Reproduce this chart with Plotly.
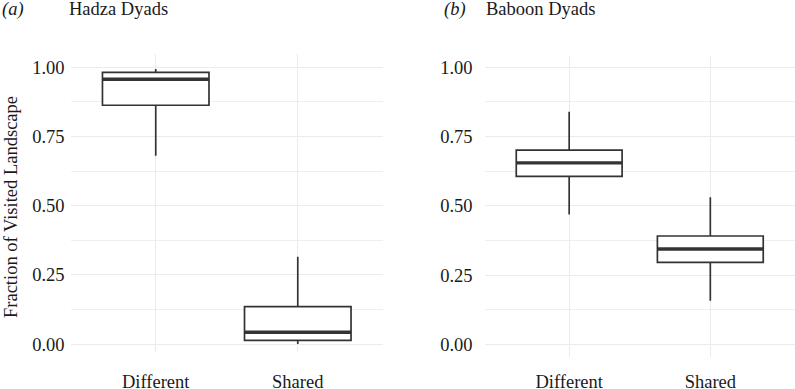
import plotly.graph_objects as go

categories = ["Different", "Shared"]
y_ticks = [0.0, 0.25, 0.5, 0.75, 1.0]
y_tick_labels = ["0.00", "0.25", "0.50", "0.75", "1.00"]

# Hadza dyads box statistics
hadza_lower = [0.681, 0.001]
hadza_q1 = [0.863, 0.014]
hadza_median = [0.957, 0.043]
hadza_q3 = [0.982, 0.136]
hadza_upper = [0.994, 0.316]

# Baboon dyads box statistics
baboon_lower = [0.469, 0.157]
baboon_q1 = [0.606, 0.296]
baboon_median = [0.655, 0.344]
baboon_q3 = [0.701, 0.391]
baboon_upper = [0.840, 0.531]

BOX_W = 0.75
LINE = "#333333"
GRID = "#EBEBEB"
FONT = "Liberation Serif"
FS = 18.5
W, H = 795, 389

xpos = list(range(len(categories)))

fig = go.Figure()


def add_panel(lower, q1, med, q3, upper, xa, ya):
    fig.add_trace(go.Box(
        x=xpos, q1=q1, median=med, q3=q3, lowerfence=lower, upperfence=upper,
        width=BOX_W, whiskerwidth=0, fillcolor="white",
        line=dict(color=LINE, width=1.7), boxpoints=False,
        xaxis=xa, yaxis=ya, showlegend=False, hoverinfo="skip",
    ))
    mx, my = [], []
    for c, m in zip(xpos, med):
        mx += [c - BOX_W / 2, c + BOX_W / 2, None]
        my += [m, m, None]
    fig.add_trace(go.Scatter(
        x=mx, y=my, mode="lines", line=dict(color=LINE, width=3.4),
        xaxis=xa, yaxis=ya, showlegend=False, hoverinfo="skip",
    ))


add_panel(hadza_lower, hadza_q1, hadza_median, hadza_q3, hadza_upper, "x", "y")
add_panel(baboon_lower, baboon_q1, baboon_median, baboon_q3, baboon_upper, "x2", "y2")

xcommon = dict(
    range=[-0.6, len(categories) - 0.4], tickvals=xpos, ticktext=categories,
    showgrid=True, gridcolor=GRID, gridwidth=1.2, zeroline=False, showline=False,
    ticks="", automargin=False, tickfont=dict(family=FONT, size=FS, color="#1a1a1a"),
)
ycommon = dict(
    tickvals=y_ticks, ticktext=y_tick_labels,
    showgrid=True, gridcolor=GRID, gridwidth=1.2, zeroline=False, showline=False,
    ticks="", automargin=False, tickfont=dict(family=FONT, size=FS, color="#1a1a1a"),
    minor=dict(dtick=0.125, tick0=0, showgrid=True, gridcolor="#EFEFEF", gridwidth=0.9, ticks=""),
)

fig.update_layout(
    width=W, height=H,
    margin=dict(l=0, r=0, t=0, b=0),
    plot_bgcolor="white", paper_bgcolor="white",
    xaxis=dict(domain=[70.5 / W, 383 / W], anchor="y", ticklabelstandoff=17, **xcommon),
    xaxis2=dict(domain=[484.5 / W, 1.0], anchor="y2", ticklabelstandoff=11, **xcommon),
    yaxis=dict(domain=[1 - 351.7 / H, 1 - 54 / H], range=[-0.027, 1.048], anchor="x",
               ticklabelstandoff=5, **ycommon),
    yaxis2=dict(domain=[1 - 357.3 / H, 1 - 55.7 / H], range=[-0.047, 1.042], anchor="x2",
                ticklabelstandoff=11, **ycommon),
)

ann_font = dict(family=FONT, size=FS, color="#1a1a1a")
ty = 1 + 3 / H
fig.add_annotation(text="<i>(a)</i>", x=0, y=ty, xref="paper", yref="paper",
                   xanchor="left", yanchor="top", showarrow=False, font=ann_font)
fig.add_annotation(text="Hadza Dyads", x=67 / W, y=ty, xref="paper", yref="paper",
                   xanchor="left", yanchor="top", showarrow=False, font=ann_font)
fig.add_annotation(text="<i>(b)</i>", x=442 / W, y=ty, xref="paper", yref="paper",
                   xanchor="left", yanchor="top", showarrow=False, font=ann_font)
fig.add_annotation(text="Baboon Dyads", x=484 / W, y=ty, xref="paper", yref="paper",
                   xanchor="left", yanchor="top", showarrow=False, font=ann_font)
fig.add_annotation(text="Fraction of Visited Landscape", x=11 / W, y=1 - 207 / H,
                   xref="paper", yref="paper", xanchor="center", yanchor="middle",
                   textangle=-90, showarrow=False, font=ann_font)

fig.write_html("out.html", config={"displayModeBar": False},
               post_script="document.body.style.margin='0';")
